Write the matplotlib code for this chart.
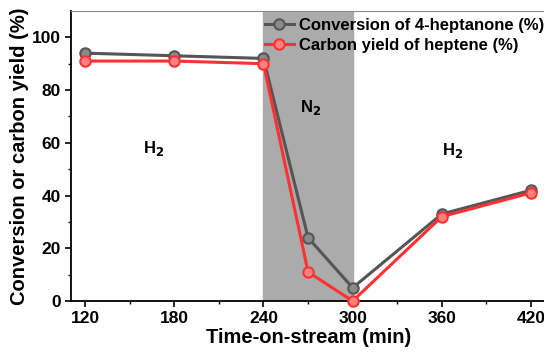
import matplotlib.pyplot as plt

plt.rcParams['font.family'] = ['Liberation Sans', 'DejaVu Sans']
plt.rcParams['font.weight'] = 'bold'

time_min = [120, 180, 240, 270, 300, 360, 420]
conversion = [94, 93, 92, 24, 5, 33, 42]
carbon_yield = [91, 91, 90, 11, 0, 32, 41]

fig = plt.figure(figsize=(5.44, 3.52), dpi=100)
ax = fig.add_axes([0.1305, 0.1449, 0.873, 0.824])

ax.axvspan(240, 300, color='#ababab', zorder=0)

ax.plot(time_min, conversion, color='#555555', lw=2.2, marker='o', ms=7.5,
        mfc='#8a8a8a', mec='#555555', mew=1.5,
        label='Conversion of 4-heptanone (%)', zorder=3, clip_on=False)
ax.plot(time_min, carbon_yield, color='#ff3030', lw=2.2, marker='o', ms=7.5,
        mfc='#ff8080', mec='#ff3030', mew=1.5,
        label='Carbon yield of heptene (%)', zorder=4, clip_on=False)

ax.text(166, 58, 'H$_\\mathbf{2}$', fontsize=12, fontweight='bold', ha='center', va='center')
ax.text(272, 73.5, 'N$_\\mathbf{2}$', fontsize=12, fontweight='bold', ha='center', va='center')
ax.text(367, 57, 'H$_\\mathbf{2}$', fontsize=12, fontweight='bold', ha='center', va='center')

ax.set_xlim(110.5, 430)
ax.set_ylim(0, 110)
ax.set_xticks([120, 180, 240, 300, 360, 420])
ax.set_xticks([150, 210, 270, 330, 390], minor=True)
ax.set_yticks([0, 20, 40, 60, 80, 100])
ax.set_yticks([10, 30, 50, 70, 90], minor=True)
ax.tick_params(axis='both', which='major', direction='out', length=4, width=1.2, labelsize=12.5)
ax.tick_params(axis='both', which='minor', direction='out', length=2.5, width=1)
for lab in ax.get_xticklabels() + ax.get_yticklabels():
    lab.set_fontweight('bold')

ax.spines['right'].set_visible(False)
ax.spines['top'].set_color('#888888')
ax.spines['left'].set_linewidth(1.3)
ax.spines['bottom'].set_linewidth(1.3)

ax.set_xlabel('Time-on-stream (min)', fontsize=14.5, fontweight='bold', labelpad=1)
ax.set_ylabel('Conversion or carbon yield (%)', fontsize=14.5, fontweight='bold', labelpad=2)

ax.legend(loc='upper left', bbox_to_anchor=(0.395, 1.0), frameon=False,
          prop={'weight': 'bold', 'size': 12}, handlelength=1.7, handletextpad=0.3,
          labelspacing=0.3, borderaxespad=0)

fig.savefig('out.png', dpi=100)
